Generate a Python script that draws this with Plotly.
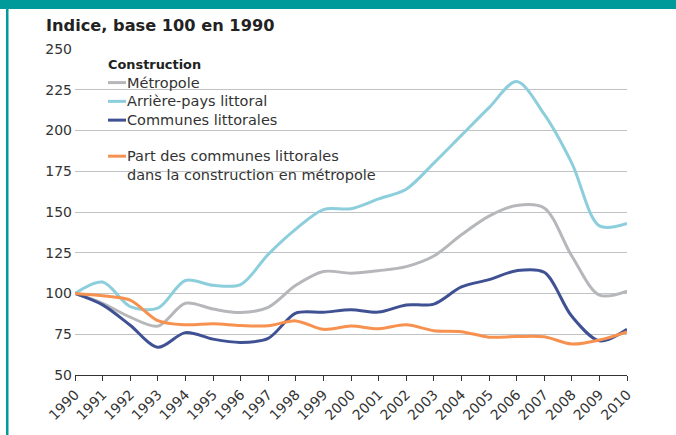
import plotly.graph_objects as go

years = list(range(1990, 2011))
metropole = [100, 94, 85.5, 80, 94, 90.5, 88.3, 91.5, 105, 113.5, 112.5, 114, 116.5, 123, 136, 147.5, 154, 152.5, 123, 99, 101.5]
arriere_pays = [100, 107, 92, 91, 108, 105, 105.5, 124, 139.5, 151.5, 152, 158, 164, 180, 197, 214, 230, 210, 180, 141.5, 143]
communes = [100, 93, 80.5, 67, 76, 72, 70, 72.5, 88, 88.5, 90, 88.6, 93, 93.5, 104, 108.5, 114, 113, 86, 71, 78]
part = [100, 98.6, 96, 83.4, 80.8, 81.4, 80.4, 80.2, 83.2, 78, 80, 78.4, 80.8, 77.2, 76.6, 73.2, 73.6, 73.4, 69, 71.5, 76.5]

names = ["Métropole", "Arrière-pays littoral", "Communes littorales",
         "Part des communes littorales<br>dans la construction en métropole"]
series = [metropole, arriere_pays, communes, part]
colors = ["#b6b7ba", "#8ccedc", "#3f5193", "#f79150"]
legend_title = "Construction"
y_title = "Indice, base 100 en 1990"
y_ticks = [50, 75, 100, 125, 150, 175, 200, 225, 250]

FONT = "DejaVu Sans"
fig = go.Figure()
for name, vals, col in zip(names, series, colors):
    fig.add_trace(go.Scatter(x=years, y=vals, mode="lines", name=name,
                             line=dict(color=col, width=3, shape="spline", smoothing=0.9),
                             showlegend=False, hoverinfo="skip"))

L, R, T, B = 75, 49, 49, 56
W, H = 676, 435
pw, ph = W - L - R, H - T - B

def px_x(p):
    return (p - L) / pw

def px_y(p):
    return (H - B - p) / ph

shapes = []
annotations = []
# teal frame
shapes.append(dict(type="rect", xref="paper", yref="paper", x0=px_x(-5), x1=px_x(W + 5),
                   y0=px_y(8.5), y1=px_y(-5), fillcolor="#009a9a", line=dict(width=0), layer="above"))
shapes.append(dict(type="rect", xref="paper", yref="paper", x0=px_x(6), x1=px_x(8.5),
                   y0=px_y(H + 5), y1=px_y(5), fillcolor="#009a9a", line=dict(width=0), layer="above"))

# title
annotations.append(dict(text="<b>" + y_title + "</b>", xref="paper", yref="paper",
                        x=px_x(44), y=px_y(25), xanchor="left", yanchor="middle", showarrow=False,
                        font=dict(family=FONT, size=16.2, color="#222222")))
# legend
annotations.append(dict(text="<b>" + legend_title + "</b>", xref="paper", yref="paper",
                        x=px_x(106), y=px_y(65), xanchor="left", yanchor="middle", showarrow=False,
                        font=dict(family=FONT, size=12.9, color="#222222")))
leg_y = [83, 102, 121, 157.5]
for name, col, yy in zip(names, colors, leg_y):
    shapes.append(dict(type="line", xref="paper", yref="paper", x0=px_x(108), x1=px_x(126),
                       y0=px_y(yy), y1=px_y(yy), line=dict(color=col, width=3)))
    if "<br>" in name:
        annotations.append(dict(text=name, xref="paper", yref="paper", x=px_x(125), y=px_y(yy - 10),
                                xanchor="left", yanchor="top", align="left", showarrow=False,
                                font=dict(family=FONT, size=14.5, color="#333333")))
    else:
        annotations.append(dict(text=name, xref="paper", yref="paper", x=px_x(125), y=px_y(yy),
                                xanchor="left", yanchor="middle", showarrow=False,
                                font=dict(family=FONT, size=14.5, color="#333333")))

fig.update_layout(
    width=W, height=H, margin=dict(l=L, r=R, t=T, b=B),
    paper_bgcolor="white", plot_bgcolor="white",
    shapes=shapes, annotations=annotations,
    font=dict(family=FONT, size=14, color="#333333"),
)
fig.update_xaxes(range=[1990, 2010], tickmode="array", tickvals=years, ticktext=[str(y) for y in years],
                 tickangle=-45, showgrid=False, showline=True, linecolor="#333333", linewidth=1,
                 ticks="outside", ticklen=5, tickcolor="#333333", zeroline=False,
                 tickfont=dict(family=FONT, size=14, color="#333333"))
fig.update_yaxes(range=[50, 250], tickvals=y_ticks, showgrid=True, gridcolor="#c0c2c4", gridwidth=1.3,
                 zeroline=False, showline=False, ticks="", ticklabelstandoff=2,
                 tickfont=dict(family=FONT, size=14, color="#333333"))

fig.write_html("out.html", config={"displayModeBar": False},
               post_script="document.body.style.margin='0';document.body.style.overflow='hidden';")
